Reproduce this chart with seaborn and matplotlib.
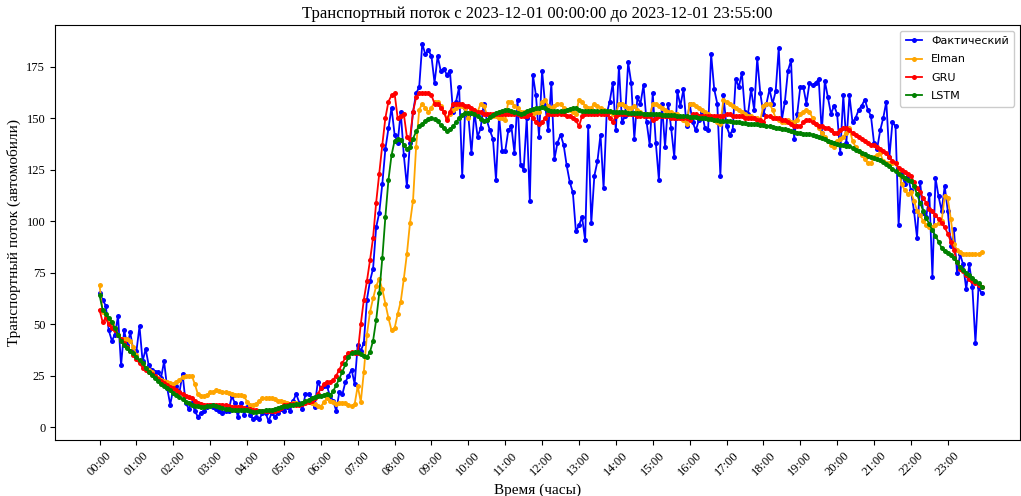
import numpy as np
import pandas as pd
import matplotlib
matplotlib.use("Agg")
import matplotlib.pyplot as plt
import seaborn as sns

# ---- data: 5-minute steps over 2023-12-01 (288 points) ----
hour_labels = [f"{h:02d}:00" for h in range(24)]

actual = [
    65, 62, 59, 47, 42, 45, 54, 30, 47, 40, 46, 37,
    37, 49, 32, 38, 30, 28, 27, 27, 24, 32, 19, 11,
    19, 20, 17, 26, 12, 9, 12, 8, 5, 7, 8, 10,
    11, 10, 9, 8, 7, 8, 8, 15, 12, 5, 12, 6,
    10, 6, 4, 5, 4, 7, 7, 3, 7, 5, 7, 9,
    8, 10, 8, 13, 16, 12, 9, 16, 16, 14, 10, 22,
    19, 20, 20, 15, 13, 8, 17, 16, 22, 25, 28, 21,
    40, 37, 41, 62, 71, 77, 97, 104, 118, 135, 145, 155,
    142, 138, 153, 132, 117, 138, 153, 162, 165, 186, 181, 183,
    180, 167, 180, 173, 174, 171, 173, 153, 158, 165, 122, 155,
    151, 133, 153, 141, 145, 157, 149, 144, 140, 120, 151, 134,
    134, 144, 146, 133, 159, 127, 125, 150, 110, 171, 161, 141,
    173, 156, 144, 167, 130, 138, 142, 137, 127, 119, 114, 95,
    98, 102, 91, 146, 99, 122, 129, 142, 116, 152, 158, 167,
    144, 175, 148, 151, 177, 167, 140, 160, 157, 166, 148, 137,
    162, 138, 120, 157, 136, 157, 145, 131, 163, 156, 164, 146,
    157, 148, 144, 149, 153, 145, 144, 181, 164, 157, 122, 161,
    146, 142, 144, 169, 165, 172, 153, 152, 164, 154, 179, 162,
    152, 157, 164, 157, 163, 184, 149, 158, 173, 178, 140, 152,
    165, 165, 157, 167, 166, 167, 169, 143, 168, 160, 152, 156,
    152, 133, 161, 138, 161, 148, 150, 154, 156, 159, 154, 151,
    138, 135, 144, 150, 158, 131, 148, 146, 98, 124, 118, 122,
    115, 105, 92, 119, 104, 102, 113, 73, 121, 112, 105, 117,
    105, 88, 96, 75, 84, 79, 67, 79, 68, 41, 68, 65,
]

elman = [
    69, 56, 54, 52, 50, 48, 45, 43, 43, 43, 42, 39,
    35, 32, 30, 29, 28, 27, 25, 24, 23, 22.5, 22, 21.5,
    21, 22, 23, 24.5, 25, 25, 25, 21, 16, 15, 15, 15.5,
    17, 17, 18, 17.5, 17, 17, 16.5, 16, 15.5, 15.5, 15.5, 15,
    12.5, 10.7, 11, 11.5, 13, 14, 14, 14, 14, 13.5, 13, 13,
    12.5, 12, 11.5, 12, 12, 11.5, 12, 12.3, 12.3, 12, 11.5, 10.5,
    10, 12.3, 14, 13, 12.3, 11.5, 12, 12, 11.8, 11, 10.2, 11.2,
    20, 12.3, 27, 45, 56, 62.5, 68.5, 72, 67, 60, 53, 47,
    48, 55, 61, 72, 84, 99, 110, 136, 154, 157, 155, 153,
    155, 158, 158, 156, 153, 150, 152, 154, 155, 156, 156, 155,
    150, 154, 154, 153, 157, 156, 152, 151, 151, 151, 150, 150,
    149, 158, 158, 156, 155, 153, 153, 153, 153, 152, 153, 153,
    158, 159, 156, 155, 156, 157, 157, 155, 154, 154, 153, 152,
    159, 158, 156, 155, 155, 157, 156, 155, 154, 153, 153, 152,
    152, 157, 157, 156, 155, 155, 156, 154, 153, 152, 152, 151,
    157, 157, 156, 155, 154, 153, 153, 152, 152, 150, 149, 147,
    157, 157, 156, 155, 154, 153, 152, 150, 149, 148, 147, 159,
    158, 157, 156, 155, 154, 153, 152, 151, 151, 150, 150, 149,
    156, 157, 157, 154, 150, 149, 148, 148, 149, 148, 148, 149,
    152, 153, 154, 153, 150, 147, 145, 143, 141, 139, 137, 136,
    139, 140, 141, 143, 145, 139, 136, 134, 132, 130, 128, 128,
    131, 132, 133, 129, 128, 128, 128, 128, 125, 118, 115, 113,
    114, 110, 105, 103, 100, 98, 97, 97, 98, 99, 100, 112,
    111, 101, 89, 86, 85, 84, 84, 84, 84, 84, 84, 85,
]

gru = [
    57, 51, 53, 50, 48, 47, 45, 43, 41, 39, 37, 35,
    33, 31, 29, 28, 27, 26, 25, 23.5, 22.5, 21.5, 20.5, 19.5,
    19, 18, 17, 16, 15, 14.5, 14, 13, 12, 11.5, 11, 11,
    11, 11, 11, 11, 11, 11, 10.5, 10, 10, 10, 10, 9.5,
    9, 9, 8.5, 8.5, 8, 8, 8, 8, 8, 8, 8.5, 9.5,
    11, 11, 11.5, 11.5, 11, 11, 11.5, 12, 12.5, 13, 14, 16,
    19, 21, 22, 22, 23, 25, 28, 31, 34, 36, 36.5, 36,
    36, 50, 62, 71, 81, 92, 109, 123, 137, 150, 158, 161,
    162, 150, 151, 152, 141, 140, 153, 160, 162, 162, 162, 162,
    161, 157, 157, 155, 153, 149, 153, 157, 157, 157, 157, 156,
    156, 155, 154, 153, 153, 152, 152, 152, 152, 152, 152, 152,
    152, 152, 152, 152, 152, 151, 151, 151, 152, 150, 148, 147,
    148, 150, 152, 152, 152, 152, 152, 152, 151, 151, 150, 149,
    146, 151, 152, 152, 152, 152, 152, 152, 152, 152, 150, 148,
    151, 152, 152, 152, 152, 152, 152, 151, 151, 151, 151, 151,
    149, 150, 151, 151, 151, 151, 150, 150, 150, 150, 150, 150,
    149, 152, 152, 151, 151, 151, 151, 151, 151, 151, 151, 151,
    152, 152, 151, 151, 151, 151, 150, 150, 150, 150, 149, 149,
    148, 151, 151, 150, 150, 150, 149, 149, 148, 147, 146, 146,
    146, 148, 149, 149, 148, 147, 146, 146, 145, 145, 144, 143,
    143, 144, 145, 145, 144, 143, 142, 141, 140, 139, 138, 137,
    137, 136, 135, 134, 133, 131, 129, 128, 126, 125, 124, 123,
    122, 119, 116, 114, 111, 109, 106, 105, 103, 101, 99, 97,
    94, 90, 86, 80, 77, 76, 74, 72, 71, 70, 69, 68,
]

lstm = [
    64, 57, 55, 53, 51, 48, 45, 42, 40, 38.5, 37, 36,
    34, 32.5, 31, 29, 27, 25.5, 24, 22.5, 21, 20, 19, 18,
    16.5, 15.5, 14.5, 13.5, 12.5, 11.8, 11, 10.5, 10.2, 10, 10, 10.2,
    10.5, 10.7, 10.3, 10, 9.5, 9, 8.7, 8.3, 8.3, 8.3, 8.4, 8.5,
    8.5, 7.8, 7.4, 7.5, 7.8, 8.1, 8.3, 8.5, 8.6, 8.9, 9.3, 9.9,
    10.2, 10.5, 10.7, 11, 11.3, 11.5, 12, 12.8, 13.3, 14, 14.7, 15,
    15.4, 15.8, 16, 15.6, 17.5, 20.5, 23.5, 27, 30.5, 34, 36, 36.6,
    36.4, 35.5, 34.5, 34, 36.6, 42, 52, 65, 82, 102, 120, 132,
    139, 140, 139.5, 137, 135, 136, 140, 143.5, 146, 147, 148.4, 149.4,
    150, 149.5, 148.4, 146.5, 145, 143.6, 144.5, 146, 148, 150, 151.5, 152.5,
    152.7, 152.5, 151.8, 150.9, 149.5, 148.4, 149, 150.5, 151.7, 152.3, 153, 153.5,
    154, 154, 153.3, 152.8, 152.5, 152, 152.5, 153.3, 153.8, 154.2, 154.8, 155,
    155.2, 155, 154, 153.3, 153.3, 153.3, 153.3, 153.5, 154, 154.5, 154.8, 155,
    154, 153.3, 153.3, 153.3, 153.3, 153.3, 153.3, 153.3, 153.3, 153.2, 153.2, 153.1,
    153, 153, 153, 152.8, 152.7, 152.6, 152.5, 152.4, 152.3, 152.2, 152.1, 152,
    152, 151.9, 151.8, 151.7, 151.7, 151.6, 151.5, 151.4, 151.2, 151, 150.9, 150.8,
    150.6, 150.5, 150.3, 150.1, 150, 149.8, 149.6, 149.4, 149.2, 149, 148.8, 148.7,
    148.6, 148.4, 148.3, 148.1, 147.9, 147.7, 147.5, 147.3, 147.2, 147, 146.9, 146.8,
    146.5, 146.2, 146, 145.7, 145.4, 145, 144.8, 144.6, 144.4, 143.8, 143.3, 143,
    142.6, 142.4, 142.3, 142.2, 142, 141.5, 141, 140.4, 139.8, 139, 138.5, 138,
    137.5, 137.1, 136.8, 136.5, 136.3, 135.5, 134.7, 134, 133.3, 132.5, 131.8, 131,
    130.5, 130, 129.5, 128.8, 127.5, 126.6, 125.5, 124.1, 123, 121.7, 120.8, 120,
    119.4, 117, 113, 109, 105, 101.5, 98.5, 95.5, 93, 90, 87, 85.5,
    84.4, 83.4, 82, 80, 78, 76.3, 75, 73.9, 72.5, 71.2, 69.8, 68.2,
]

series_names = ["Фактический", "Elman", "GRU", "LSTM"]
series_values = [actual, elman, gru, lstm]
series_colors = ["blue", "orange", "red", "green"]

steps = np.arange(len(actual))

# ---- figure ----
serif = ["Liberation Serif", "DejaVu Serif"]
fig = plt.figure(figsize=(10.21, 4.96), dpi=100)
ax = fig.add_axes([55 / 1021, 1 - 440 / 496, 965 / 1021, 415 / 496])

for name, vals, col in zip(series_names, series_values, series_colors):
    df = pd.DataFrame({"step": steps, "value": vals})
    sns.lineplot(data=df, x="step", y="value", ax=ax, color=col, label=name,
                 marker="o", markersize=3.6, markeredgewidth=0, linewidth=1.3)

ax.set_xlim(-14.5, 299.5)
ax.set_xticks(steps[::12])
ax.set_xticklabels(hour_labels, rotation=45, fontfamily=serif, fontsize=9)
ax.set_yticks([0, 25, 50, 75, 100, 125, 150, 175])
for lab in ax.get_yticklabels():
    lab.set_fontfamily(serif)
    lab.set_fontsize(9)

ax.set_title("Транспортный поток с 2023-12-01 00:00:00 до 2023-12-01 23:55:00",
             fontfamily=serif, fontsize=12, pad=5)
ax.set_xlabel("Время (часы)", fontfamily=serif, fontsize=11)
ax.set_ylabel("Транспортный поток (автомобили)", fontfamily=serif, fontsize=11)

ax.legend(loc="upper right", fontsize=8, framealpha=1, handlelength=1.5,
          labelspacing=0.75, borderpad=0.5)

fig.savefig("out.png", dpi=100)
